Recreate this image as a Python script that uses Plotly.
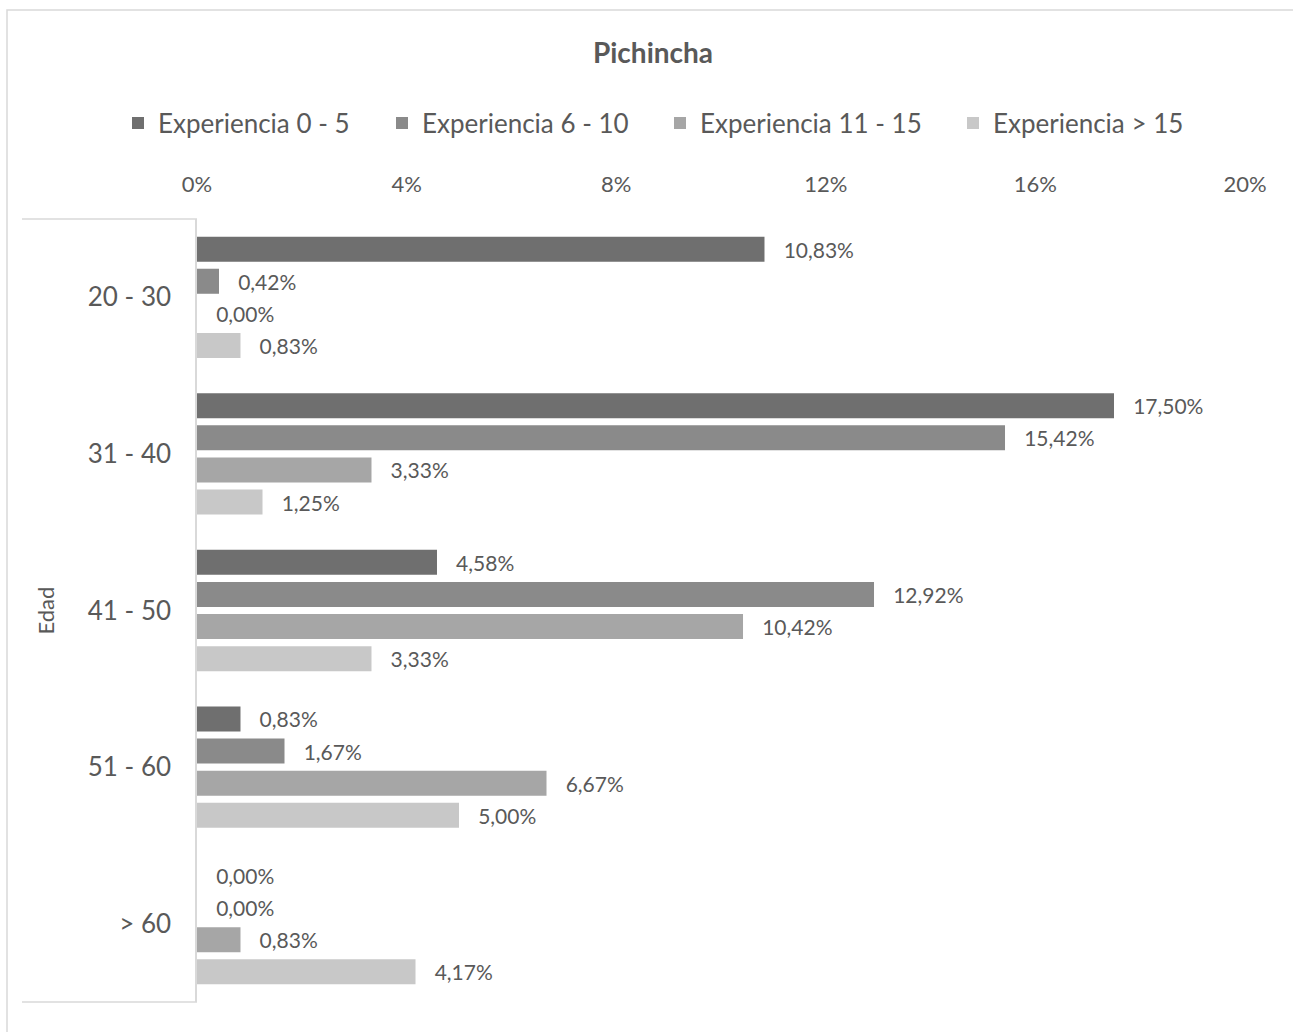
import plotly.graph_objects as go

# Age groups (rows) and experience bands (series), values in percent
age_groups = ["20 - 30", "31 - 40", "41 - 50", "51 - 60", "> 60"]
series_names = ["Experiencia 0 - 5", "Experiencia 6 - 10", "Experiencia 11 - 15", "Experiencia > 15"]
exp_0_5 = [10.83, 17.50, 4.58, 0.83, 0.00]
exp_6_10 = [0.42, 15.42, 12.92, 1.67, 0.00]
exp_11_15 = [0.00, 3.33, 10.42, 6.67, 0.83]
exp_15_plus = [0.83, 1.25, 3.33, 5.00, 4.17]
x_ticks = [0, 4, 8, 12, 16, 20]
x_tick_labels = ["0%", "4%", "8%", "12%", "16%", "20%"]

series_values = [exp_0_5, exp_6_10, exp_11_15, exp_15_plus]
series_colors = ["#6f6f6f", "#8a8a8a", "#a6a6a6", "#c8c8c8"]

FONT = "Lato"
TEXT_COLOR = "#595959"
LINE_COLOR = "#d9d9d9"
NBSP = "\u00a0"

W, H = 1293, 1032
L, R, T, B = 197, 48, 219, 30
PW, PH = W - L - R, H - T - B

# left edge (px) of each legend entry along the top row
legend_left_px = [118, 382, 660, 953]
legend_center_y_px = 123


def px_to_paper_x(px):
    return (px - L) / PW


def px_to_paper_y(py):
    return (H - B - py) / PH


legend_ids = ["legend", "legend2", "legend3", "legend4"]

fig = go.Figure()
for name, vals, color, lid in zip(series_names, series_values, series_colors, legend_ids):
    fig.add_trace(go.Bar(
        y=age_groups,
        x=vals,
        name=name,
        legend=lid,
        orientation="h",
        marker=dict(color=color, line=dict(width=0)),
        texttemplate=NBSP * 3 + "%{x:.2f}%",
        textposition="outside",
        constraintext="none",
        cliponaxis=False,
        textfont=dict(family=FONT, size=21, color=TEXT_COLOR),
        hovertemplate="%{y}: %{x:.2f}%<extra>" + name + "</extra>",
    ))

shapes = [
    # chart frame (top and left edges visible)
    dict(type="rect", xref="paper", yref="paper",
         x0=px_to_paper_x(7), x1=px_to_paper_x(W + 20),
         y0=px_to_paper_y(H + 20), y1=px_to_paper_y(10),
         line=dict(color=LINE_COLOR, width=1.5), fillcolor="rgba(0,0,0,0)", layer="below"),
    # category label bracket lines
    dict(type="line", xref="paper", yref="paper",
         x0=px_to_paper_x(22), x1=0, y0=1, y1=1,
         line=dict(color=LINE_COLOR, width=1.5)),
    dict(type="line", xref="paper", yref="paper",
         x0=px_to_paper_x(22), x1=0, y0=0, y1=0,
         line=dict(color=LINE_COLOR, width=1.5)),
]

legend_layouts = {}
for lid, left_px in zip(legend_ids, legend_left_px):
    legend_layouts[lid] = dict(
        orientation="h", xref="container", yref="container",
        x=left_px / W, xanchor="left",
        y=1 - legend_center_y_px / H, yanchor="middle",
        font=dict(family=FONT, size=26, color=TEXT_COLOR),
        bgcolor="rgba(0,0,0,0)", borderwidth=0,
    )

fig.update_layout(
    width=W, height=H,
    margin=dict(l=L, r=R, t=T, b=B, pad=0, autoexpand=False),
    paper_bgcolor="white", plot_bgcolor="white",
    separators=",.",
    barmode="group",
    bargap=0.18,
    bargroupgap=0.22,
    font=dict(family=FONT, color=TEXT_COLOR),
    title=dict(text="<b>Pichincha</b>", x=653 / W, xanchor="center",
               y=1 - 53 / H, yanchor="middle",
               font=dict(family=FONT, size=28, color=TEXT_COLOR)),
    xaxis=dict(side="top", range=[0, 20], tickmode="array",
               tickvals=x_ticks, ticktext=x_tick_labels,
               showgrid=False, zeroline=False, showline=False, ticks="",
               ticklabelstandoff=22,
               tickfont=dict(family=FONT, size=22, color=TEXT_COLOR)),
    yaxis=dict(autorange="reversed", showgrid=False, zeroline=False,
               showline=True, linecolor=LINE_COLOR, linewidth=1.5, ticks="",
               ticklabelstandoff=19,
               tickfont=dict(family=FONT, size=26, color=TEXT_COLOR)),
    shapes=shapes,
    annotations=[dict(text="Edad", textangle=-90, xref="paper", yref="paper",
                      x=px_to_paper_x(45), y=0.5, xanchor="center", yanchor="middle",
                      showarrow=False,
                      font=dict(family=FONT, size=22, color=TEXT_COLOR))],
    showlegend=True,
    **legend_layouts,
)

fig.write_html("out.html")
